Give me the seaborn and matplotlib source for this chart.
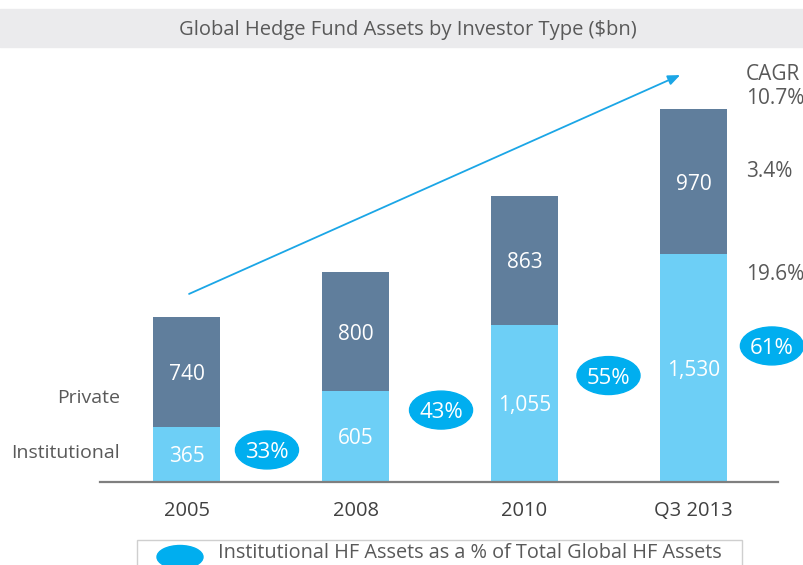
import matplotlib.pyplot as plt
import seaborn as sns
import pandas as pd
from matplotlib.patches import Ellipse, Rectangle

years = ["2005", "2008", "2010", "Q3 2013"]
institutional = [365, 605, 1055, 1530]
private = [740, 800, 863, 970]
inst_share = ["33%", "43%", "55%", "61%"]
cagr_labels = ["CAGR\n10.7%", "3.4%", "19.6%"]

DARK = "#607e9c"
LIGHT = "#6dcff6"
BUBBLE = "#00aeef"
GREY_TEXT = "#595959"

# bubble positions (x offset from category, y in $bn) and label layout
bubble_x = [0.476, 1.506, 2.497, 3.464]
bubble_y = [212, 480, 712, 911]
cagr_y = [2655, 2083, 1391]

df = pd.DataFrame({"year": years, "institutional": institutional, "private": private})
df["total"] = df["institutional"] + df["private"]

sns.set_theme(style="white")
plt.rcParams["font.family"] = ["Open Sans", "DejaVu Sans"]

fig = plt.figure(figsize=(8.04, 5.65), dpi=100)

# overlay in pixel coordinates for title band
over = fig.add_axes([0, 0, 1, 1])
over.set_xlim(0, 804)
over.set_ylim(565, 0)
over.axis("off")
over.add_patch(Rectangle((0, 9), 804, 38, color="#ebebed"))
over.text(408, 29.5, "Global Hedge Fund Assets by Investor Type ($bn)", ha="center", va="center",
          color=GREY_TEXT, fontsize=14.5)

ax = fig.add_axes([100 / 804, (565 - 481.5) / 565, (778 - 100) / 804, (481.5 - 47) / 565])
ax.patch.set_alpha(0)

sns.barplot(data=df, x="year", y="total", color=DARK, width=0.396, saturation=1, linewidth=0, ax=ax)
sns.barplot(data=df, x="year", y="institutional", color=LIGHT, width=0.396, saturation=1, linewidth=0, ax=ax)

for i, row in df.iterrows():
    ax.text(i, row["institutional"] / 2, f"{row['institutional']:,}", ha="center", va="center_baseline",
            color="white", fontsize=15)
    ax.text(i, row["institutional"] + row["private"] / 2, f"{row['private']:,}", ha="center",
            va="center_baseline", color="white", fontsize=15)

for x, y, s in zip(bubble_x, bubble_y, inst_share):
    ax.add_patch(Ellipse((x, y), 0.373, 255, color=BUBBLE, clip_on=False, zorder=3))
    ax.text(x, y, s, ha="center", va="center_baseline", color="white", fontsize=16, zorder=4)

ax.annotate("", xy=(2.936, 2739), xytext=(0, 1253),
            arrowprops=dict(arrowstyle="-|>,head_length=0.6,head_width=0.25", color="#1ba6e6", lw=1.3),
            annotation_clip=False)

for s, y in zip(cagr_labels, cagr_y):
    ax.text(3.311, y, s, ha="left", va="center", color=GREY_TEXT, fontsize=15, linespacing=1.2)

ax.text(-0.393, 562, "Private", ha="right", va="center", color=GREY_TEXT, fontsize=14)
ax.text(-0.393, 192, "Institutional", ha="right", va="center", color=GREY_TEXT, fontsize=14)

ax.set_xlim(-0.512, 3.5)
ax.set_ylim(0, 2920)
ax.set_xlabel("")
ax.set_ylabel("")
ax.set_yticks([])
ax.tick_params(axis="x", length=0, pad=14, labelsize=14.5, labelcolor="#404040")
for side in ["top", "left", "right"]:
    ax.spines[side].set_visible(False)
ax.spines["bottom"].set_color("#7f7f7f")
ax.spines["bottom"].set_linewidth(1.6)

leg = fig.add_axes([0, 0, 1, 1], zorder=5)
leg.set_xlim(0, 804)
leg.set_ylim(565, 0)
leg.axis("off")
leg.add_patch(Rectangle((137.5, 539.5), 605, 40, facecolor="white", edgecolor="#cfcfcf", lw=1))
leg.add_patch(Ellipse((180, 557), 46, 23, color=BUBBLE))
leg.text(218, 553, "Institutional HF Assets as a % of Total Global HF Assets", ha="left", va="center",
         color=GREY_TEXT, fontsize=14.3)

fig.savefig("out.png", dpi=100)
